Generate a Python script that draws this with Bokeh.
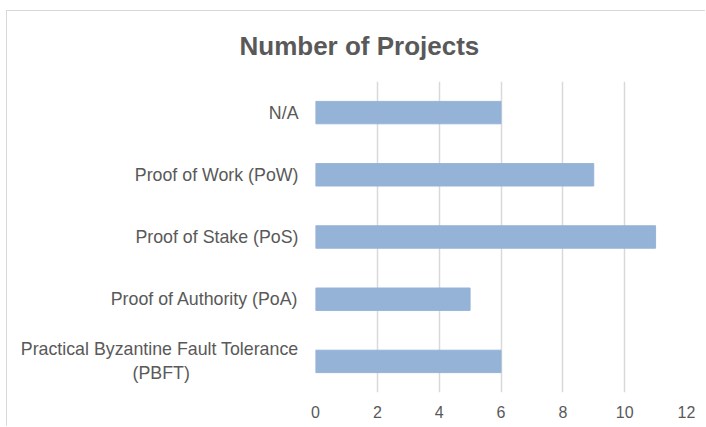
from bokeh.plotting import figure
from bokeh.models import Range1d, FactorRange, CustomJSTickFormatter
from bokeh.embed import file_html
from bokeh.resources import INLINE

categories = [
    "N/A",
    "Proof of Work (PoW)",
    "Proof of Stake (PoS)",
    "Proof of Authority (PoA)",
    "Practical Byzantine Fault Tolerance\n(PBFT)",
]
projects = [6, 9, 11, 5, 6]
x_ticks = [0, 2, 4, 6, 8, 10, 12]

factors = list(reversed(categories))

p = figure(
    width=699, height=416,
    y_range=FactorRange(factors=factors, range_padding=0),
    x_range=Range1d(0, 12),
    output_backend="svg", toolbar_location=None,
    min_border_left=308, min_border_right=20, min_border_top=69, min_border_bottom=35,
)
p.styles = {"margin-left": "6px", "margin-top": "10px",
            "border-top": "1px solid #d9d9d9", "border-left": "1px solid #d9d9d9"}

p.hbar(y=categories, right=projects, height=0.36, left=0,
       fill_color="#95b3d7", line_color="#95b3d7")

p.title.text = "Number of Projects"
p.title.text_font = "Liberation Sans"
p.title.text_font_size = "26px"
p.title.text_color = "#595959"
p.title.align = "left"
p.title.offset = -76
p.title.vertical_align = "top"
p.title.standoff = 38

p.outline_line_color = None
p.ygrid.grid_line_color = None
p.xgrid.grid_line_color = "#d9d9d9"
p.xgrid.grid_line_width = 1.5
p.xaxis.ticker = x_ticks
p.xaxis.axis_line_color = None
p.xaxis.major_tick_line_color = None
p.xaxis.minor_tick_line_color = None
p.xaxis.major_label_text_font = "Liberation Sans"
p.xaxis.major_label_text_font_size = "16px"
p.xaxis.major_label_text_color = "#595959"
p.xaxis.major_label_standoff = 7

# centre the second line of the wrapped label under the first (as in the source)
p.yaxis.formatter = CustomJSTickFormatter(code="""
    if (tick.indexOf("\\n") >= 0) {
        const parts = tick.split("\\n");
        return parts[0] + "\\n" + parts[1] + "\\u00a0".repeat(22);
    }
    return tick;
""")
p.yaxis.axis_line_color = None
p.yaxis.major_tick_line_color = None
p.yaxis.minor_tick_line_color = None
p.yaxis.major_label_text_font = "Liberation Sans"
p.yaxis.major_label_text_font_size = "17.8px"
p.yaxis.major_label_text_color = "#595959"
p.yaxis.major_label_standoff = 11

open("out.html", "w").write(file_html(p, INLINE))
